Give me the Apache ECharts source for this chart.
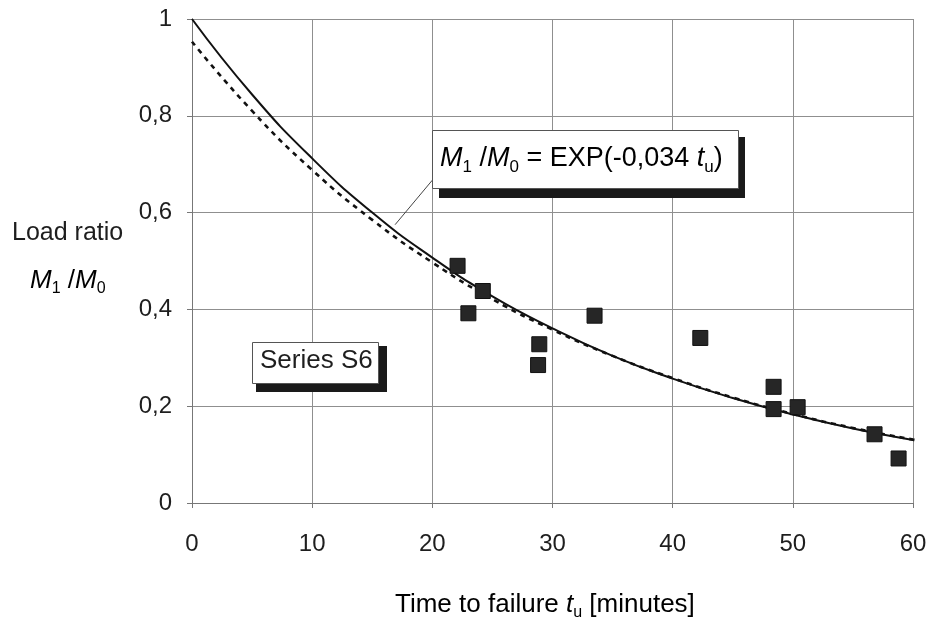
<!DOCTYPE html>
<html>
<head>
<meta charset="utf-8">
<script src="https://cdn.jsdelivr.net/npm/echarts@6/dist/echarts.min.js"></script>
<style>
  html, body { margin: 0; padding: 0; background: #fff; }
  #chart { width: 938px; height: 630px; }
</style>
</head>
<body>
<div id="chart"></div>
<script>
// Test results, series S6: time to failure (minutes) and load ratio M1/M0
const failTime  = [22.1, 24.2, 23.0, 28.9, 28.8, 33.5, 42.3, 48.4, 48.4, 50.4, 56.8, 58.8];
const loadRatio = [0.490, 0.438, 0.392, 0.328, 0.285, 0.387, 0.341, 0.240, 0.194, 0.198, 0.142, 0.092];

// Fitted curve M1/M0 = EXP(-0,034 tu), sampled every 5 minutes
const fitTime  = [0, 5, 10, 15, 20, 25, 30, 35, 40, 45, 50, 55, 60, 60.8];
const fitRatio = [1.000, 0.844, 0.712, 0.600, 0.507, 0.427, 0.361, 0.304, 0.257, 0.217, 0.183, 0.154, 0.130, 0.127];

// Alternative (dashed) fit
const altTime  = [0, 5, 10, 15, 20, 25, 30, 35, 40, 45, 50, 55, 60, 60.8];
const altRatio = [0.953, 0.810, 0.688, 0.585, 0.497, 0.421, 0.358, 0.304, 0.258, 0.218, 0.184, 0.155, 0.131, 0.128];

const xTicks = [0, 10, 20, 30, 40, 50, 60];
const yTicks = [0, 0.2, 0.4, 0.6, 0.8, 1];

// Leader line from the formula box to the fitted curve
const leaderFrom = [20.0, 0.667];
const leaderTo   = [16.9, 0.575];

const FONT = '"Liberation Sans", Arial, sans-serif';
const zip = (a, b) => a.map((v, i) => [v, b[i]]);

const chart = echarts.init(document.getElementById('chart'), null, { renderer: 'canvas' });

const fmtY = v => (v === 0 ? '0' : v === 1 ? '1' : String(Math.round(v * 10) / 10).replace('.', ','));

function mathStyles(fs, subFs, lh) {
  return {
    i: { fontSize: fs, fontFamily: FONT, fontStyle: 'italic', color: '#1e1e1e', lineHeight: lh },
    n: { fontSize: fs, fontFamily: FONT, color: '#1e1e1e', lineHeight: lh },
    s: { fontSize: subFs, fontFamily: FONT, color: '#1e1e1e', verticalAlign: 'bottom', lineHeight: subFs }
  };
}

chart.setOption({
  animation: false,
  backgroundColor: '#fff',
  grid: { left: 192, right: 25, top: 19, bottom: 127, containLabel: false },
  xAxis: {
    type: 'value', min: 0, max: 60, interval: 10,
    axisLine: { show: true, onZero: false, lineStyle: { color: '#777', width: 1 } },
    axisTick: { show: true, length: 5, lineStyle: { color: '#777' } },
    splitLine: { show: true, lineStyle: { color: '#8f8f8f', width: 1 } },
    axisLabel: { fontSize: 24, fontFamily: FONT, color: '#1e1e1e', margin: 29,
      formatter: v => (xTicks.includes(v) ? String(v) : '') }
  },
  yAxis: {
    type: 'value', min: 0, max: 1, interval: 0.2,
    axisLine: { show: true, onZero: false, lineStyle: { color: '#777', width: 1 } },
    axisTick: { show: true, length: 5, lineStyle: { color: '#777' } },
    splitLine: { show: true, lineStyle: { color: '#8f8f8f', width: 1 } },
    axisLabel: { fontSize: 24, fontFamily: FONT, color: '#1e1e1e', margin: 20,
      formatter: v => (yTicks.some(t => Math.abs(t - v) < 1e-9) ? fmtY(v) : '') }
  },
  series: [
    {
      name: 'alt', type: 'line', data: zip(altTime, altRatio), smooth: true,
      showSymbol: false, clip: false, z: 3,
      lineStyle: { color: '#111', width: 2.6, type: [5, 5] }
    },
    {
      name: 'fit', type: 'line', data: zip(fitTime, fitRatio), smooth: true,
      showSymbol: false, clip: false, z: 4,
      lineStyle: { color: '#111', width: 2 },
      markLine: {
        silent: true, animation: false,
        symbol: ['none', 'arrow'], symbolSize: [0, 9],
        lineStyle: { color: '#444', width: 1, type: 'solid' },
        label: { show: false },
        data: [[{ coord: leaderFrom }, { coord: leaderTo }]]
      }
    },
    {
      name: 'S6', type: 'scatter', data: zip(failTime, loadRatio),
      symbol: 'rect', symbolSize: 15, z: 5,
      itemStyle: { color: '#262626', borderColor: '#111', borderWidth: 1, opacity: 1,
        decal: { symbol: 'circle', symbolSize: 0.3, color: 'rgba(255,255,255,0.45)', dashArrayX: [3, 3], dashArrayY: [3, 3] } }
    }
  ],
  graphic: [
    // formula box with drop shadow
    { type: 'rect', left: 439, top: 137, shape: { width: 306, height: 61 }, style: { fill: '#1a1a1a' }, z: 10 },
    { type: 'rect', left: 432, top: 130, shape: { width: 306, height: 58 }, style: { fill: '#fff', stroke: '#555', lineWidth: 1 }, z: 11 },
    { type: 'text', left: 440, top: 145, z: 12,
      style: {
        text: '{i|M}{s|1}{n| /}{i|M}{s|0}{n| = EXP(-0,034 }{i|t}{s|u}{n|)}',
        rich: mathStyles(27, 17, 34)
      } },
    // series label box with drop shadow
    { type: 'rect', left: 256, top: 346, shape: { width: 131, height: 46 }, style: { fill: '#1a1a1a' }, z: 10 },
    { type: 'rect', left: 252, top: 342, shape: { width: 126, height: 41 }, style: { fill: '#fff', stroke: '#555', lineWidth: 1 }, z: 11 },
    { type: 'text', left: 260, top: 348, z: 12,
      style: { text: 'Series S6', font: '26px ' + FONT, fill: '#1e1e1e' } },
    // y axis title
    { type: 'text', left: 12, top: 221, z: 12,
      style: { text: 'Load ratio', font: '25px ' + FONT, fill: '#1e1e1e' } },
    { type: 'text', left: 30, top: 268, z: 12,
      style: { text: '{i|M}{s|1}{n| /}{i|M}{s|0}', rich: mathStyles(26, 16, 32) } },
    // x axis title
    { type: 'text', left: 395, top: 592, z: 12,
      style: {
        text: '{n|Time to failure }{i|t}{s|u}{n| [minutes]}',
        rich: mathStyles(26, 16, 32)
      } }
  ]
});
</script>
</body>
</html>
